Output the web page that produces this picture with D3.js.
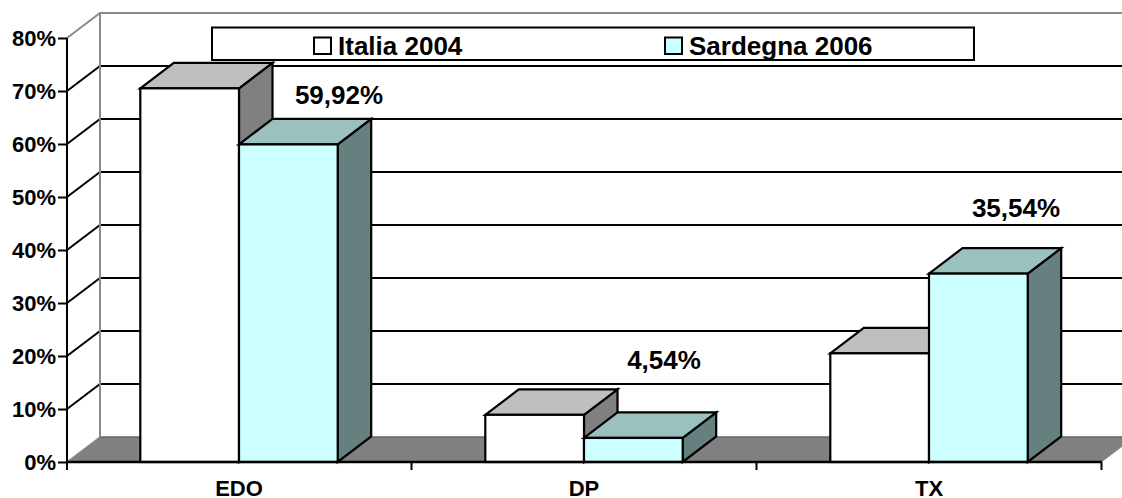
<!DOCTYPE html>
<html><head><meta charset="utf-8">
<script src="https://cdn.jsdelivr.net/npm/d3@7"></script>
<style>html,body{margin:0;padding:0;background:#fff}svg{display:block}
text{font-family:"Liberation Sans",Arial,sans-serif;font-weight:bold;fill:#000}</style>
</head><body><svg id="c" width="1122" height="498"></svg>
<script>
const categories = ["EDO", "DP", "TX"];
const seriesNames = ["Italia 2004", "Sardegna 2006"];
const italia2004 = [70.5, 8.9, 20.5];
const sardegna2006 = [59.92, 4.54, 35.54];
const sardegnaLabels = ["59,92%", "4,54%", "35,54%"];
const yTicks = [0, 10, 20, 30, 40, 50, 60, 70, 80];

const W = 1122, H = 498;
const svg = d3.select("#c");
const DX = 33, DY = -25;            // wall / floor depth
const BDX = 33.5, BDY = -25.5;      // bar depth
const x0 = d3.scaleBand().domain(categories).range([66.5, 1101.5]);
const inner = d3.scaleBand().domain(seriesNames).range([73.8, x0.bandwidth() - 73.8]);
const y = d3.scaleLinear().domain([0, 80]).range([462, 38]);
const pts = a => a.map(p => p.join(",")).join(" ");

const series = [
  {name: seriesNames[0], values: italia2004, front: "#FFFFFF", top: "#BFBFBF", side: "#808080"},
  {name: seriesNames[1], values: sardegna2006, front: "#CCFFFF", top: "#9BC1BF", side: "#668080"}
];

// floor
svg.append("polygon")
  .attr("points", pts([[67, y(0)], [67 + DX, y(0) + DY], [1102 + DX, y(0) + DY], [1102, y(0)]]))
  .attr("fill", "#808080");
svg.append("line").attr("x1", 100).attr("x2", W).attr("y1", y(0) + DY).attr("y2", y(0) + DY)
  .attr("stroke", "#666").attr("stroke-width", 1.5);
svg.append("line").attr("x1", 67).attr("y1", y(0)).attr("x2", 67 + DX).attr("y2", y(0) + DY)
  .attr("stroke", "#888").attr("stroke-width", 1.5);

// gridlines (side wall + back wall)
yTicks.filter(t => t > 0).forEach(t => {
  const col = t === 80 ? "#8a8a8a" : "#000";
  svg.append("polyline")
    .attr("points", pts([[67, y(t)], [67 + DX, y(t) + DY], [W, y(t) + DY]]))
    .attr("fill", "none").attr("stroke", col).attr("stroke-width", 2);
});
// back wall vertical
svg.append("line").attr("x1", 100).attr("x2", 100).attr("y1", y(80) + DY).attr("y2", y(0) + DY)
  .attr("stroke", "#8a8a8a").attr("stroke-width", 2);

// bars
categories.forEach((c, i) => {
  series.forEach(s => {
    const xl = x0(c) + inner(s.name), xr = xl + inner.bandwidth(), yt = y(s.values[i]), yb = y(0);
    const g = svg.append("g").attr("stroke", "#000").attr("stroke-width", 2.2).attr("stroke-linejoin", "miter");
    g.append("polygon").attr("fill", s.side)
      .attr("points", pts([[xr, yt], [xr + BDX, yt + BDY], [xr + BDX, yb + BDY], [xr, yb]]));
    g.append("polygon").attr("fill", s.top)
      .attr("points", pts([[xl, yt], [xl + BDX, yt + BDY], [xr + BDX, yt + BDY], [xr, yt]]));
    g.append("rect").attr("fill", s.front)
      .attr("x", xl).attr("y", yt).attr("width", xr - xl).attr("height", yb - yt);
  });
});

// axes
const yAxis = d3.axisLeft(y).tickValues(yTicks).tickSize(9).tickPadding(2).tickFormat(d => d + "%");
const gy = svg.append("g").attr("transform", "translate(67,0)").call(yAxis);
gy.select(".domain").attr("stroke", "#000").attr("stroke-width", 2).attr("d", `M0,${y(80)}V${y(0)}`);
gy.selectAll("line").attr("stroke", "#000").attr("stroke-width", 2);
gy.selectAll("text").style("font-size", "22px").style("font-family", '"Liberation Sans"').style("font-weight", "bold");

const xAxis = d3.axisBottom(x0).tickSize(0).tickPadding(19);
const gx = svg.append("g").attr("transform", `translate(0,${y(0)})`).call(xAxis);
gx.select(".domain").attr("stroke", "#000").attr("stroke-width", 2.5).attr("d", "M67,0H1102");
gx.selectAll("text").style("font-size", "22px").style("font-family", '"Liberation Sans"').style("font-weight", "bold").attr("dy", "0.7em");
const sep = [67, ...categories.map(c => x0(c) + x0.bandwidth())];
svg.selectAll(".xt").data(sep).join("line").attr("class", "xt")
  .attr("x1", d => d).attr("x2", d => d).attr("y1", y(0)).attr("y2", y(0) + 8)
  .attr("stroke", "#000").attr("stroke-width", 2);

// data labels (hand-placed in the original)
const labelLift = [40, 69, 56.5];
const labelShift = [100, 80, 87];
svg.selectAll(".dl").data(categories).join("text").attr("class", "dl")
  .attr("text-anchor", "middle").style("font-size", "26px")
  .attr("x", (c, i) => x0(c) + x0.bandwidth() / 2 + labelShift[i])
  .attr("y", (c, i) => y(sardegna2006[i]) - labelLift[i])
  .text((c, i) => sardegnaLabels[i]);

// legend
svg.append("rect").attr("x", 212).attr("y", 27.5).attr("width", 762).attr("height", 32.5)
  .attr("fill", "#fff").attr("stroke", "#000").attr("stroke-width", 2);
const legendX = [314, 665];
series.forEach((s, i) => {
  svg.append("rect").attr("x", legendX[i]).attr("y", 37.5).attr("width", 17).attr("height", 16.5)
    .attr("fill", s.front).attr("stroke", "#000").attr("stroke-width", 2);
  svg.append("text").attr("x", legendX[i] + 24).attr("y", 55).style("font-size", "26px").text(s.name);
});
</script></body></html>
